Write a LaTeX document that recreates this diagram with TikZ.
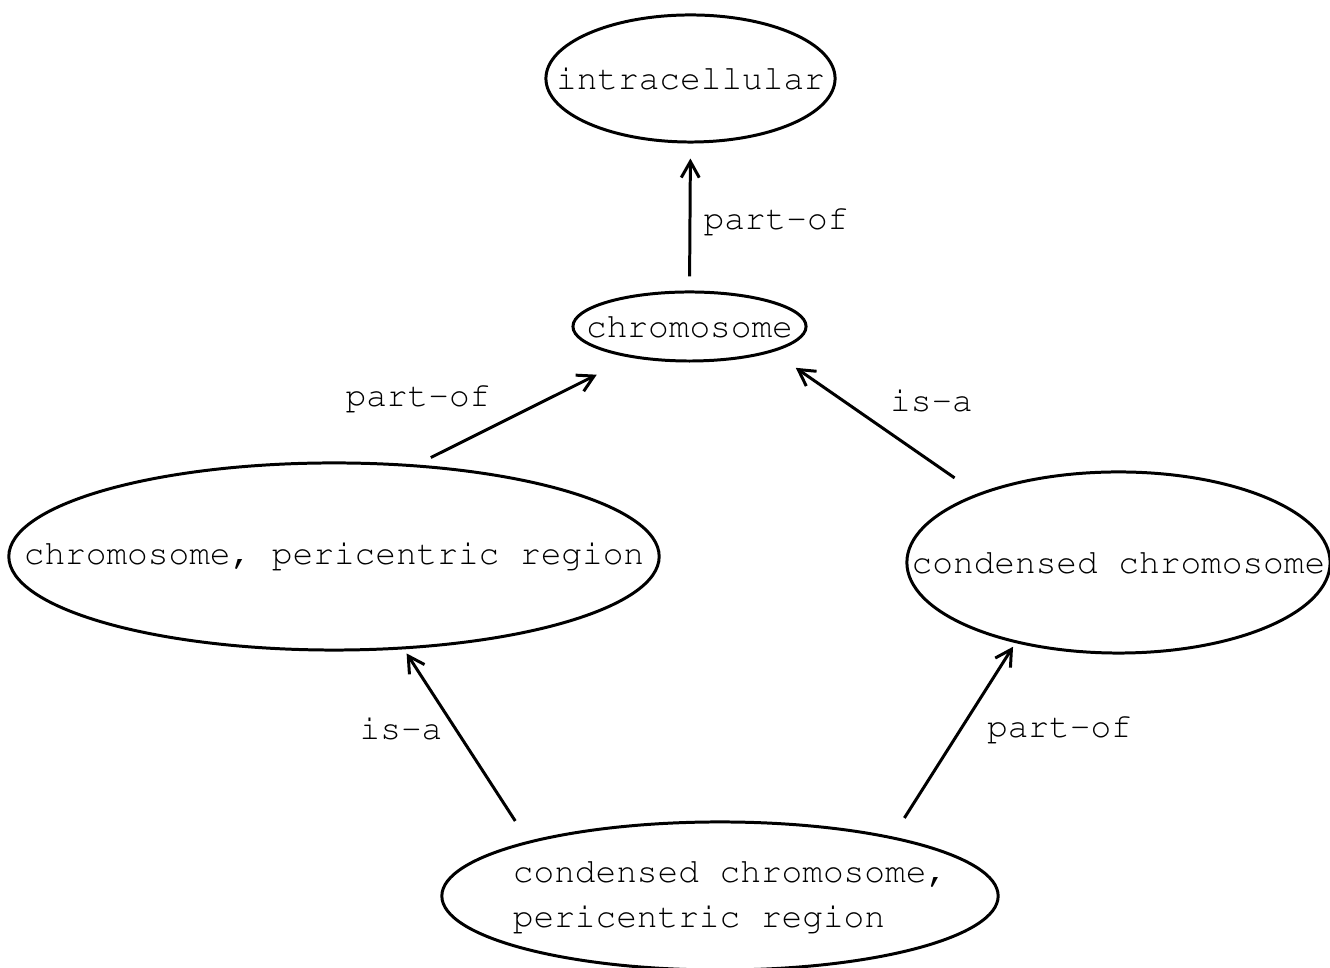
\documentclass[tikz,border=0pt]{standalone}
\usepackage[T1]{fontenc}
\renewcommand\ttdefault{pcr}
\usetikzlibrary{shapes.geometric,arrows.meta}

\begin{document}
\begin{tikzpicture}[x=0.01cm,y=-0.01cm,line width=0.85pt,
  >={Straight Barb[length=1.6mm,width=1.8mm]},
  font=\ttfamily\fontsize{9.8pt}{12.6pt}\selectfont,
  term/.style={ellipse,draw,inner sep=0pt},
  rel/.style={anchor=base,inner sep=0pt}]
  \useasboundingbox (0,0) rectangle (1330,968);
  % terms
  \node[term,minimum width=2.89cm,minimum height=1.27cm] (intra) at (690.5,78.5) {\makebox[0pt]{intracellular}};
  \node[term,minimum width=2.33cm,minimum height=0.69cm] (chrom) at (689.5,326.5) {\makebox[0pt]{chromosome}};
  \node[term,minimum width=6.50cm,minimum height=1.87cm] (peri) at (334,556.5) {\makebox[0pt]{chromosome, pericentric region}};
  \node[term,minimum width=4.23cm,minimum height=1.81cm] (cond) at (1118.5,562.5) {\makebox[0pt]{condensed chromosome}};
  \node[term,minimum width=5.56cm,minimum height=1.48cm] (condperi) at (720,896) {\makebox[0pt]{\hspace*{0.2cm}\begin{tabular}{@{}l@{}}condensed chromosome,\\pericentric region\end{tabular}}};
  % relations
  \draw[->,shorten <=1.4mm,shorten >=1.5mm] (chrom.north) -- (intra.south);
  \draw[->,shorten <=1.57mm,shorten >=3.8mm] (peri.48.2) -- (chrom.208.7);
  \draw[->,shorten <=2.75mm,shorten >=2.78mm] (cond.154) -- (chrom.343.6);
  \draw[->,shorten <=2.39mm,shorten >=0.49mm] (condperi.164.1) -- (peri.-53.2);
  \draw[->,shorten <=2.2mm,shorten >=0.44mm] (condperi.19) -- (cond.218.5);
  \node[rel] (po1) at (776,230) {part-of};
  \node[rel] (po2) at (418,407) {part-of};
  \node[rel] (isa1) at (931.5,412) {is-a};
  \node[rel] (isa2) at (401,740) {is-a};
  \node[rel] (po3) at (1059.5,738) {part-of};
\end{tikzpicture}
\end{document}
